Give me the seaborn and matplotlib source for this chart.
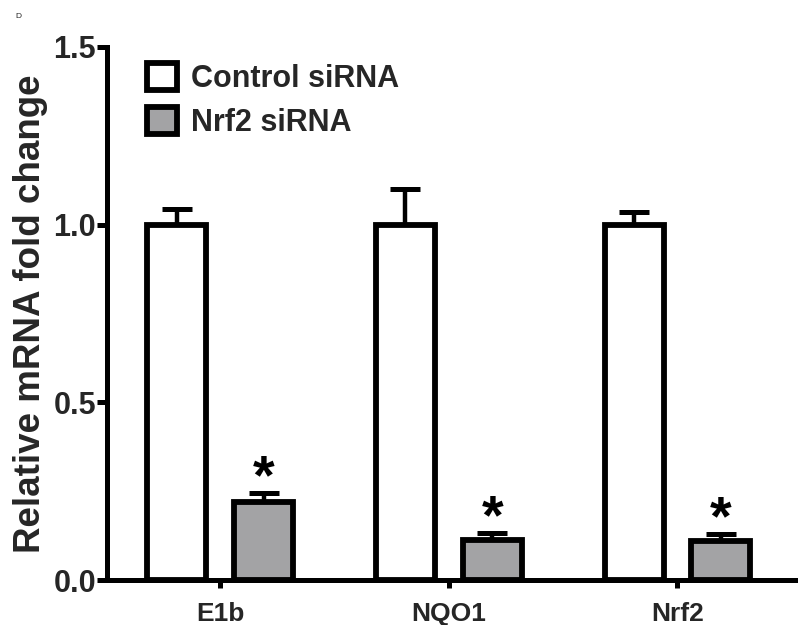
import matplotlib
matplotlib.use("Agg")
import matplotlib.pyplot as plt
import seaborn as sns
import pandas as pd
import numpy as np

genes = ["E1b", "NQO1", "Nrf2"]
groups = ["Control siRNA", "Nrf2 siRNA"]
control_vals = [1.0, 1.0, 1.0]
control_err = [0.045, 0.10, 0.035]
nrf2_vals = [0.22, 0.113, 0.11]
nrf2_err = [0.025, 0.02, 0.02]
sig_labels = ["*", "*", "*"]

sns.set_theme(style="white")
plt.rcParams['font.family'] = ['Liberation Sans', 'DejaVu Sans']
plt.rcParams['font.weight'] = 'bold'

df = pd.DataFrame({
    "gene": genes * 2,
    "group": [groups[0]] * 3 + [groups[1]] * 3,
    "value": control_vals + nrf2_vals,
})

fig = plt.figure(figsize=(8, 6.25), dpi=100)
ax = fig.add_axes([0.134, 0.072, 0.86, 0.853])

sns.barplot(data=df, x="gene", y="value", hue="group", order=genes, hue_order=groups,
            palette={groups[0]: "white", groups[1]: "#a2a2a6"}, errorbar=None,
            width=0.76, gap=0.32, edgecolor="black", linewidth=4.2, ax=ax, zorder=3)

# error bars (upper only)
errs = {groups[0]: control_err, groups[1]: nrf2_err}
vals = {groups[0]: control_vals, groups[1]: nrf2_vals}
for gi, g in enumerate(groups):
    cont = ax.containers[gi]
    xs = [p.get_x() + p.get_width() / 2 for p in cont.patches]
    ax.errorbar(xs, vals[g], yerr=[np.zeros(3), errs[g]], fmt="none", ecolor="black",
                elinewidth=3.2, capsize=11, capthick=3.6, zorder=2)
    if g == groups[1]:
        for x, v, e, s in zip(xs, vals[g], errs[g], sig_labels):
            ax.text(x, v + e - 0.035, s, ha="center", va="bottom", fontsize=40,
                    fontweight="bold", color="black")

ax.set_ylim(0, 1.5)
ax.set_xlim(-0.495, 2.515)
ax.set_yticks([0.0, 0.5, 1.0, 1.5])
ax.set_yticklabels(["0.0", "0.5", "1.0", "1.5"])
ax.set_xlabel("")
ax.set_ylabel("Relative mRNA fold change", fontsize=26.5, fontweight="bold", labelpad=4)
for s in ["top", "right"]:
    ax.spines[s].set_visible(False)
for s in ["left", "bottom"]:
    ax.spines[s].set_linewidth(3.6)
    ax.spines[s].set_color("black")
ax.tick_params(axis="y", which="major", direction="out", length=7, width=3.6,
               labelsize=22, pad=1, left=True, color="black")
ax.tick_params(axis="x", which="major", direction="out", length=6, width=3.6,
               labelsize=19, pad=10, bottom=True, color="black")
for lab in ax.get_xticklabels() + ax.get_yticklabels():
    lab.set_fontweight("bold")

leg = ax.legend(loc="upper left", bbox_to_anchor=(0.04, 0.993), frameon=False,
                fontsize=22, handlelength=1.0, handleheight=1.0, handletextpad=0.45,
                labelspacing=0.42, borderaxespad=0)
for t in leg.get_texts():
    t.set_fontweight("bold")
for h in leg.legend_handles:
    h.set_linewidth(4.2)
    h.set_edgecolor("black")

fig.text(0.019, 0.972, "D", fontsize=6, fontweight="normal")

fig.savefig("out.png", dpi=100)
